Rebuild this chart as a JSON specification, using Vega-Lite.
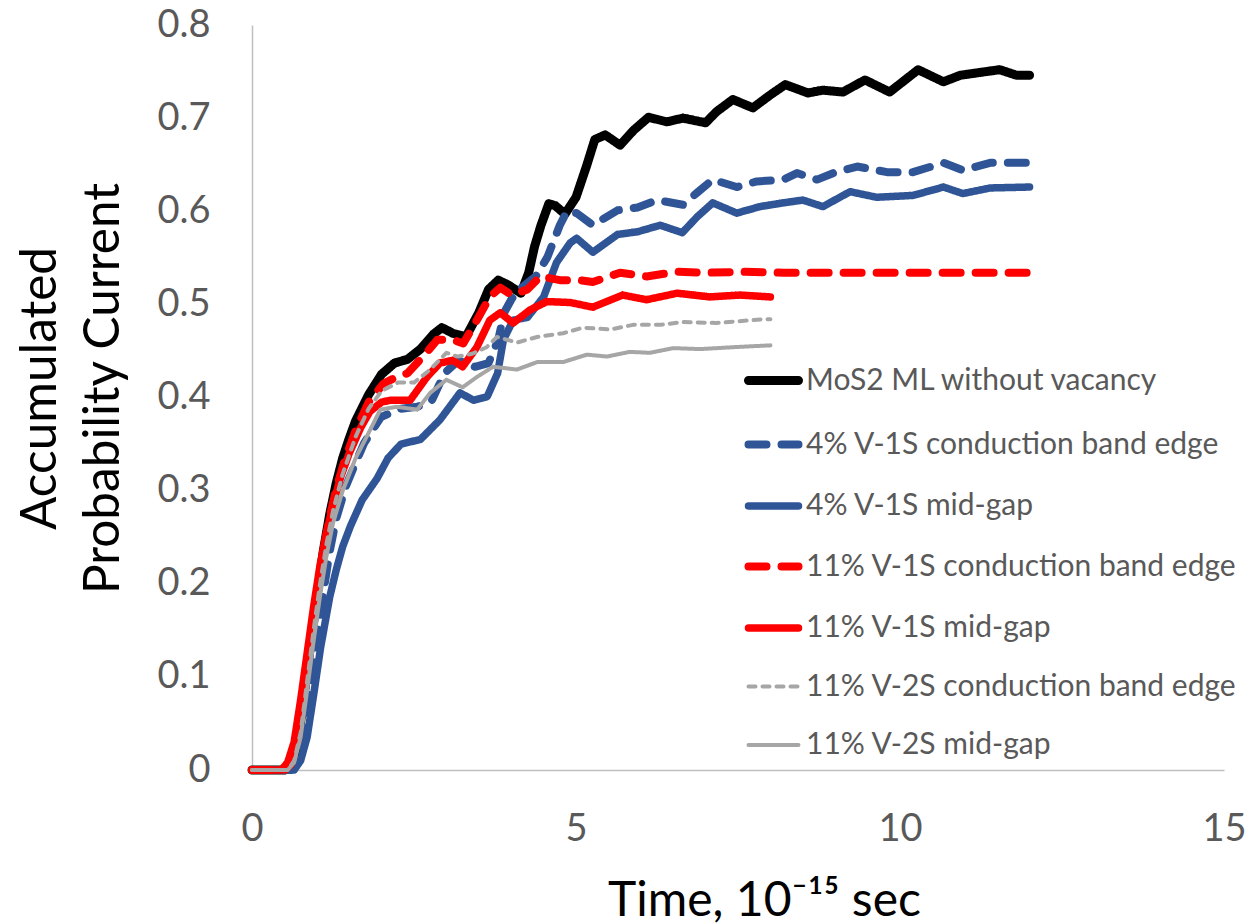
{
"$schema": "https://vega.github.io/schema/vega-lite/v6.json",
"width": 972, "height": 745,
"autosize": {"type": "none"},
"padding": {"left": 252, "top": 25, "right": 27, "bottom": 154},
"background": "white",
"config": {"view": {"stroke": null}, "font": "Lato"},
"datasets": {"d": [
{"s":"MoS2 ML without vacancy","x":0,"y":0},{"s":"MoS2 ML without vacancy","x":0.5,"y":0},{"s":"MoS2 ML without vacancy","x":0.6,"y":0.005},{"s":"MoS2 ML without vacancy","x":0.7,"y":0.025},{"s":"MoS2 ML without vacancy","x":0.8,"y":0.078},{"s":"MoS2 ML without vacancy","x":0.9,"y":0.132},{"s":"MoS2 ML without vacancy","x":1.0,"y":0.185},{"s":"MoS2 ML without vacancy","x":1.1,"y":0.235},{"s":"MoS2 ML without vacancy","x":1.2,"y":0.275},{"s":"MoS2 ML without vacancy","x":1.3,"y":0.308},{"s":"MoS2 ML without vacancy","x":1.4,"y":0.335},{"s":"MoS2 ML without vacancy","x":1.5,"y":0.356},{"s":"MoS2 ML without vacancy","x":1.6,"y":0.375},{"s":"MoS2 ML without vacancy","x":1.8,"y":0.403},{"s":"MoS2 ML without vacancy","x":2.0,"y":0.425},{"s":"MoS2 ML without vacancy","x":2.2,"y":0.437},{"s":"MoS2 ML without vacancy","x":2.4,"y":0.441},{"s":"MoS2 ML without vacancy","x":2.6,"y":0.452},{"s":"MoS2 ML without vacancy","x":2.8,"y":0.468},{"s":"MoS2 ML without vacancy","x":2.93,"y":0.475},{"s":"MoS2 ML without vacancy","x":3.1,"y":0.469},{"s":"MoS2 ML without vacancy","x":3.3,"y":0.465},{"s":"MoS2 ML without vacancy","x":3.5,"y":0.491},{"s":"MoS2 ML without vacancy","x":3.65,"y":0.516},{"s":"MoS2 ML without vacancy","x":3.8,"y":0.526},{"s":"MoS2 ML without vacancy","x":3.95,"y":0.521},{"s":"MoS2 ML without vacancy","x":4.15,"y":0.512},{"s":"MoS2 ML without vacancy","x":4.27,"y":0.534},{"s":"MoS2 ML without vacancy","x":4.36,"y":0.562},{"s":"MoS2 ML without vacancy","x":4.46,"y":0.585},{"s":"MoS2 ML without vacancy","x":4.58,"y":0.608},{"s":"MoS2 ML without vacancy","x":4.68,"y":0.606},{"s":"MoS2 ML without vacancy","x":4.83,"y":0.597},{"s":"MoS2 ML without vacancy","x":5.0,"y":0.615},{"s":"MoS2 ML without vacancy","x":5.16,"y":0.648},{"s":"MoS2 ML without vacancy","x":5.29,"y":0.677},{"s":"MoS2 ML without vacancy","x":5.45,"y":0.682},{"s":"MoS2 ML without vacancy","x":5.68,"y":0.671},{"s":"MoS2 ML without vacancy","x":5.89,"y":0.687},{"s":"MoS2 ML without vacancy","x":6.12,"y":0.701},{"s":"MoS2 ML without vacancy","x":6.4,"y":0.696},{"s":"MoS2 ML without vacancy","x":6.65,"y":0.7},{"s":"MoS2 ML without vacancy","x":7.0,"y":0.695},{"s":"MoS2 ML without vacancy","x":7.17,"y":0.707},{"s":"MoS2 ML without vacancy","x":7.42,"y":0.72},{"s":"MoS2 ML without vacancy","x":7.73,"y":0.711},{"s":"MoS2 ML without vacancy","x":8.0,"y":0.725},{"s":"MoS2 ML without vacancy","x":8.23,"y":0.736},{"s":"MoS2 ML without vacancy","x":8.58,"y":0.727},{"s":"MoS2 ML without vacancy","x":8.81,"y":0.73},{"s":"MoS2 ML without vacancy","x":9.12,"y":0.728},{"s":"MoS2 ML without vacancy","x":9.46,"y":0.741},{"s":"MoS2 ML without vacancy","x":9.84,"y":0.728},{"s":"MoS2 ML without vacancy","x":10.28,"y":0.752},{"s":"MoS2 ML without vacancy","x":10.67,"y":0.739},{"s":"MoS2 ML without vacancy","x":10.93,"y":0.746},{"s":"MoS2 ML without vacancy","x":11.23,"y":0.749},{"s":"MoS2 ML without vacancy","x":11.54,"y":0.752},{"s":"MoS2 ML without vacancy","x":11.8,"y":0.746},{"s":"MoS2 ML without vacancy","x":12.0,"y":0.746},
{"s":"4% V-1S conduction band edge","x":0,"y":0},{"s":"4% V-1S conduction band edge","x":0.6,"y":0},{"s":"4% V-1S conduction band edge","x":0.7,"y":0.01},{"s":"4% V-1S conduction band edge","x":0.8,"y":0.04},{"s":"4% V-1S conduction band edge","x":0.9,"y":0.09},{"s":"4% V-1S conduction band edge","x":1.0,"y":0.14},{"s":"4% V-1S conduction band edge","x":1.1,"y":0.19},{"s":"4% V-1S conduction band edge","x":1.2,"y":0.235},{"s":"4% V-1S conduction band edge","x":1.3,"y":0.27},{"s":"4% V-1S conduction band edge","x":1.45,"y":0.305},{"s":"4% V-1S conduction band edge","x":1.6,"y":0.33},{"s":"4% V-1S conduction band edge","x":1.73,"y":0.351},{"s":"4% V-1S conduction band edge","x":1.99,"y":0.379},{"s":"4% V-1S conduction band edge","x":2.3,"y":0.388},{"s":"4% V-1S conduction band edge","x":2.55,"y":0.39},{"s":"4% V-1S conduction band edge","x":2.77,"y":0.396},{"s":"4% V-1S conduction band edge","x":2.97,"y":0.426},{"s":"4% V-1S conduction band edge","x":3.19,"y":0.44},{"s":"4% V-1S conduction band edge","x":3.44,"y":0.433},{"s":"4% V-1S conduction band edge","x":3.65,"y":0.437},{"s":"4% V-1S conduction band edge","x":3.8,"y":0.462},{"s":"4% V-1S conduction band edge","x":3.89,"y":0.491},{"s":"4% V-1S conduction band edge","x":4.0,"y":0.505},{"s":"4% V-1S conduction band edge","x":4.11,"y":0.516},{"s":"4% V-1S conduction band edge","x":4.2,"y":0.52},{"s":"4% V-1S conduction band edge","x":4.38,"y":0.53},{"s":"4% V-1S conduction band edge","x":4.56,"y":0.551},{"s":"4% V-1S conduction band edge","x":4.75,"y":0.585},{"s":"4% V-1S conduction band edge","x":4.86,"y":0.6},{"s":"4% V-1S conduction band edge","x":5.01,"y":0.598},{"s":"4% V-1S conduction band edge","x":5.26,"y":0.585},{"s":"4% V-1S conduction band edge","x":5.64,"y":0.601},{"s":"4% V-1S conduction band edge","x":5.95,"y":0.604},{"s":"4% V-1S conduction band edge","x":6.25,"y":0.612},{"s":"4% V-1S conduction band edge","x":6.65,"y":0.607},{"s":"4% V-1S conduction band edge","x":6.87,"y":0.62},{"s":"4% V-1S conduction band edge","x":7.11,"y":0.634},{"s":"4% V-1S conduction band edge","x":7.48,"y":0.626},{"s":"4% V-1S conduction band edge","x":7.79,"y":0.632},{"s":"4% V-1S conduction band edge","x":8.2,"y":0.634},{"s":"4% V-1S conduction band edge","x":8.41,"y":0.641},{"s":"4% V-1S conduction band edge","x":8.72,"y":0.634},{"s":"4% V-1S conduction band edge","x":8.97,"y":0.641},{"s":"4% V-1S conduction band edge","x":9.34,"y":0.648},{"s":"4% V-1S conduction band edge","x":9.8,"y":0.642},{"s":"4% V-1S conduction band edge","x":10.2,"y":0.642},{"s":"4% V-1S conduction band edge","x":10.67,"y":0.652},{"s":"4% V-1S conduction band edge","x":10.97,"y":0.644},{"s":"4% V-1S conduction band edge","x":11.39,"y":0.652},{"s":"4% V-1S conduction band edge","x":12.0,"y":0.652},
{"s":"4% V-1S mid-gap","x":0,"y":0},{"s":"4% V-1S mid-gap","x":0.65,"y":0},{"s":"4% V-1S mid-gap","x":0.75,"y":0.01},{"s":"4% V-1S mid-gap","x":0.85,"y":0.035},{"s":"4% V-1S mid-gap","x":0.95,"y":0.08},{"s":"4% V-1S mid-gap","x":1.06,"y":0.132},{"s":"4% V-1S mid-gap","x":1.2,"y":0.186},{"s":"4% V-1S mid-gap","x":1.3,"y":0.215},{"s":"4% V-1S mid-gap","x":1.4,"y":0.24},{"s":"4% V-1S mid-gap","x":1.52,"y":0.262},{"s":"4% V-1S mid-gap","x":1.7,"y":0.29},{"s":"4% V-1S mid-gap","x":1.93,"y":0.313},{"s":"4% V-1S mid-gap","x":2.1,"y":0.335},{"s":"4% V-1S mid-gap","x":2.3,"y":0.35},{"s":"4% V-1S mid-gap","x":2.6,"y":0.355},{"s":"4% V-1S mid-gap","x":2.9,"y":0.376},{"s":"4% V-1S mid-gap","x":3.21,"y":0.405},{"s":"4% V-1S mid-gap","x":3.42,"y":0.397},{"s":"4% V-1S mid-gap","x":3.63,"y":0.401},{"s":"4% V-1S mid-gap","x":3.79,"y":0.426},{"s":"4% V-1S mid-gap","x":3.88,"y":0.462},{"s":"4% V-1S mid-gap","x":4.03,"y":0.483},{"s":"4% V-1S mid-gap","x":4.25,"y":0.486},{"s":"4% V-1S mid-gap","x":4.5,"y":0.508},{"s":"4% V-1S mid-gap","x":4.7,"y":0.545},{"s":"4% V-1S mid-gap","x":4.91,"y":0.566},{"s":"4% V-1S mid-gap","x":5.01,"y":0.571},{"s":"4% V-1S mid-gap","x":5.26,"y":0.556},{"s":"4% V-1S mid-gap","x":5.64,"y":0.575},{"s":"4% V-1S mid-gap","x":5.95,"y":0.578},{"s":"4% V-1S mid-gap","x":6.3,"y":0.585},{"s":"4% V-1S mid-gap","x":6.64,"y":0.577},{"s":"4% V-1S mid-gap","x":6.87,"y":0.594},{"s":"4% V-1S mid-gap","x":7.11,"y":0.609},{"s":"4% V-1S mid-gap","x":7.48,"y":0.598},{"s":"4% V-1S mid-gap","x":7.84,"y":0.605},{"s":"4% V-1S mid-gap","x":8.2,"y":0.609},{"s":"4% V-1S mid-gap","x":8.5,"y":0.612},{"s":"4% V-1S mid-gap","x":8.81,"y":0.605},{"s":"4% V-1S mid-gap","x":9.23,"y":0.621},{"s":"4% V-1S mid-gap","x":9.64,"y":0.615},{"s":"4% V-1S mid-gap","x":10.2,"y":0.617},{"s":"4% V-1S mid-gap","x":10.67,"y":0.626},{"s":"4% V-1S mid-gap","x":10.97,"y":0.619},{"s":"4% V-1S mid-gap","x":11.39,"y":0.625},{"s":"4% V-1S mid-gap","x":12.0,"y":0.626},
{"s":"11% V-1S conduction band edge","x":0,"y":0},{"s":"11% V-1S conduction band edge","x":0.5,"y":0},{"s":"11% V-1S conduction band edge","x":0.6,"y":0.006},{"s":"11% V-1S conduction band edge","x":0.7,"y":0.028},{"s":"11% V-1S conduction band edge","x":0.8,"y":0.082},{"s":"11% V-1S conduction band edge","x":0.9,"y":0.137},{"s":"11% V-1S conduction band edge","x":1.0,"y":0.187},{"s":"11% V-1S conduction band edge","x":1.1,"y":0.235},{"s":"11% V-1S conduction band edge","x":1.2,"y":0.272},{"s":"11% V-1S conduction band edge","x":1.3,"y":0.302},{"s":"11% V-1S conduction band edge","x":1.42,"y":0.33},{"s":"11% V-1S conduction band edge","x":1.6,"y":0.365},{"s":"11% V-1S conduction band edge","x":1.8,"y":0.395},{"s":"11% V-1S conduction band edge","x":2.03,"y":0.415},{"s":"11% V-1S conduction band edge","x":2.2,"y":0.421},{"s":"11% V-1S conduction band edge","x":2.4,"y":0.426},{"s":"11% V-1S conduction band edge","x":2.64,"y":0.444},{"s":"11% V-1S conduction band edge","x":2.86,"y":0.462},{"s":"11% V-1S conduction band edge","x":3.1,"y":0.462},{"s":"11% V-1S conduction band edge","x":3.26,"y":0.458},{"s":"11% V-1S conduction band edge","x":3.47,"y":0.483},{"s":"11% V-1S conduction band edge","x":3.67,"y":0.508},{"s":"11% V-1S conduction band edge","x":3.83,"y":0.518},{"s":"11% V-1S conduction band edge","x":4.01,"y":0.51},{"s":"11% V-1S conduction band edge","x":4.25,"y":0.516},{"s":"11% V-1S conduction band edge","x":4.45,"y":0.53},{"s":"11% V-1S conduction band edge","x":4.75,"y":0.526},{"s":"11% V-1S conduction band edge","x":5.06,"y":0.526},{"s":"11% V-1S conduction band edge","x":5.26,"y":0.524},{"s":"11% V-1S conduction band edge","x":5.68,"y":0.534},{"s":"11% V-1S conduction band edge","x":6.09,"y":0.53},{"s":"11% V-1S conduction band edge","x":6.56,"y":0.535},{"s":"11% V-1S conduction band edge","x":7.03,"y":0.534},{"s":"11% V-1S conduction band edge","x":7.58,"y":0.535},{"s":"11% V-1S conduction band edge","x":8.2,"y":0.534},{"s":"11% V-1S conduction band edge","x":9.0,"y":0.534},{"s":"11% V-1S conduction band edge","x":10.0,"y":0.534},{"s":"11% V-1S conduction band edge","x":11.0,"y":0.534},{"s":"11% V-1S conduction band edge","x":12.0,"y":0.534},
{"s":"11% V-1S mid-gap","x":0,"y":0},{"s":"11% V-1S mid-gap","x":0.45,"y":0},{"s":"11% V-1S mid-gap","x":0.55,"y":0.008},{"s":"11% V-1S mid-gap","x":0.65,"y":0.03},{"s":"11% V-1S mid-gap","x":0.75,"y":0.075},{"s":"11% V-1S mid-gap","x":0.85,"y":0.125},{"s":"11% V-1S mid-gap","x":0.95,"y":0.175},{"s":"11% V-1S mid-gap","x":1.05,"y":0.22},{"s":"11% V-1S mid-gap","x":1.15,"y":0.255},{"s":"11% V-1S mid-gap","x":1.25,"y":0.285},{"s":"11% V-1S mid-gap","x":1.37,"y":0.315},{"s":"11% V-1S mid-gap","x":1.5,"y":0.34},{"s":"11% V-1S mid-gap","x":1.68,"y":0.368},{"s":"11% V-1S mid-gap","x":1.82,"y":0.385},{"s":"11% V-1S mid-gap","x":2.0,"y":0.395},{"s":"11% V-1S mid-gap","x":2.13,"y":0.397},{"s":"11% V-1S mid-gap","x":2.44,"y":0.397},{"s":"11% V-1S mid-gap","x":2.7,"y":0.422},{"s":"11% V-1S mid-gap","x":2.9,"y":0.437},{"s":"11% V-1S mid-gap","x":3.1,"y":0.44},{"s":"11% V-1S mid-gap","x":3.25,"y":0.433},{"s":"11% V-1S mid-gap","x":3.47,"y":0.454},{"s":"11% V-1S mid-gap","x":3.67,"y":0.483},{"s":"11% V-1S mid-gap","x":3.83,"y":0.491},{"s":"11% V-1S mid-gap","x":4.03,"y":0.48},{"s":"11% V-1S mid-gap","x":4.29,"y":0.494},{"s":"11% V-1S mid-gap","x":4.55,"y":0.503},{"s":"11% V-1S mid-gap","x":4.91,"y":0.502},{"s":"11% V-1S mid-gap","x":5.26,"y":0.497},{"s":"11% V-1S mid-gap","x":5.72,"y":0.51},{"s":"11% V-1S mid-gap","x":6.09,"y":0.505},{"s":"11% V-1S mid-gap","x":6.56,"y":0.512},{"s":"11% V-1S mid-gap","x":7.06,"y":0.508},{"s":"11% V-1S mid-gap","x":7.53,"y":0.51},{"s":"11% V-1S mid-gap","x":8.0,"y":0.508},
{"s":"11% V-2S conduction band edge","x":0,"y":0},{"s":"11% V-2S conduction band edge","x":0.55,"y":0},{"s":"11% V-2S conduction band edge","x":0.65,"y":0.01},{"s":"11% V-2S conduction band edge","x":0.75,"y":0.04},{"s":"11% V-2S conduction band edge","x":0.85,"y":0.095},{"s":"11% V-2S conduction band edge","x":0.95,"y":0.15},{"s":"11% V-2S conduction band edge","x":1.05,"y":0.2},{"s":"11% V-2S conduction band edge","x":1.15,"y":0.243},{"s":"11% V-2S conduction band edge","x":1.25,"y":0.278},{"s":"11% V-2S conduction band edge","x":1.4,"y":0.318},{"s":"11% V-2S conduction band edge","x":1.6,"y":0.358},{"s":"11% V-2S conduction band edge","x":1.8,"y":0.388},{"s":"11% V-2S conduction band edge","x":2.0,"y":0.407},{"s":"11% V-2S conduction band edge","x":2.25,"y":0.416},{"s":"11% V-2S conduction band edge","x":2.5,"y":0.416},{"s":"11% V-2S conduction band edge","x":2.75,"y":0.43},{"s":"11% V-2S conduction band edge","x":3.0,"y":0.448},{"s":"11% V-2S conduction band edge","x":3.17,"y":0.444},{"s":"11% V-2S conduction band edge","x":3.4,"y":0.447},{"s":"11% V-2S conduction band edge","x":3.62,"y":0.454},{"s":"11% V-2S conduction band edge","x":3.78,"y":0.465},{"s":"11% V-2S conduction band edge","x":4.09,"y":0.459},{"s":"11% V-2S conduction band edge","x":4.4,"y":0.465},{"s":"11% V-2S conduction band edge","x":4.8,"y":0.469},{"s":"11% V-2S conduction band edge","x":5.11,"y":0.475},{"s":"11% V-2S conduction band edge","x":5.53,"y":0.473},{"s":"11% V-2S conduction band edge","x":5.88,"y":0.478},{"s":"11% V-2S conduction band edge","x":6.3,"y":0.478},{"s":"11% V-2S conduction band edge","x":6.65,"y":0.481},{"s":"11% V-2S conduction band edge","x":7.17,"y":0.48},{"s":"11% V-2S conduction band edge","x":7.89,"y":0.484},{"s":"11% V-2S conduction band edge","x":8.0,"y":0.484},
{"s":"11% V-2S mid-gap","x":0,"y":0},{"s":"11% V-2S mid-gap","x":0.55,"y":0},{"s":"11% V-2S mid-gap","x":0.65,"y":0.008},{"s":"11% V-2S mid-gap","x":0.75,"y":0.035},{"s":"11% V-2S mid-gap","x":0.85,"y":0.085},{"s":"11% V-2S mid-gap","x":0.95,"y":0.138},{"s":"11% V-2S mid-gap","x":1.05,"y":0.187},{"s":"11% V-2S mid-gap","x":1.15,"y":0.23},{"s":"11% V-2S mid-gap","x":1.25,"y":0.265},{"s":"11% V-2S mid-gap","x":1.4,"y":0.3},{"s":"11% V-2S mid-gap","x":1.6,"y":0.335},{"s":"11% V-2S mid-gap","x":1.8,"y":0.362},{"s":"11% V-2S mid-gap","x":1.98,"y":0.387},{"s":"11% V-2S mid-gap","x":2.23,"y":0.39},{"s":"11% V-2S mid-gap","x":2.55,"y":0.387},{"s":"11% V-2S mid-gap","x":2.75,"y":0.405},{"s":"11% V-2S mid-gap","x":3.0,"y":0.419},{"s":"11% V-2S mid-gap","x":3.25,"y":0.411},{"s":"11% V-2S mid-gap","x":3.47,"y":0.422},{"s":"11% V-2S mid-gap","x":3.72,"y":0.433},{"s":"11% V-2S mid-gap","x":4.09,"y":0.43},{"s":"11% V-2S mid-gap","x":4.4,"y":0.438},{"s":"11% V-2S mid-gap","x":4.8,"y":0.438},{"s":"11% V-2S mid-gap","x":5.17,"y":0.446},{"s":"11% V-2S mid-gap","x":5.48,"y":0.444},{"s":"11% V-2S mid-gap","x":5.83,"y":0.449},{"s":"11% V-2S mid-gap","x":6.14,"y":0.448},{"s":"11% V-2S mid-gap","x":6.5,"y":0.453},{"s":"11% V-2S mid-gap","x":6.92,"y":0.452},{"s":"11% V-2S mid-gap","x":7.42,"y":0.454},{"s":"11% V-2S mid-gap","x":8.0,"y":0.456}
]},
"data": {"name": "d"},
"mark": {"type": "line", "strokeCap": "round", "strokeJoin": "round"},
"encoding": {
  "x": {"field": "x", "type": "quantitative",
    "scale": {"domain": [0, 15], "nice": false},
    "axis": {"values": [0, 5, 10, 15], "format": "d", "grid": false, "ticks": false, "tickSize": 0, "labelFlush": false,
      "domainColor": "#BFBFBF", "domainWidth": 1.5,
      "labelFont": "Lato", "labelFontSize": 38, "labelColor": "#595959", "labelPadding": 40,
      "title": "Time, 10⁻¹⁵ sec", "titleFont": "Lato", "titleFontSize": 48, "titleFontWeight": "normal", "titleColor": "#000000",
      "titleX": 512, "titleY": 145, "titleAlign": "center", "titleBaseline": "alphabetic"}},
  "y": {"field": "y", "type": "quantitative",
    "scale": {"domain": [0, 0.8], "nice": false},
    "axis": {"values": [0, 0.1, 0.2, 0.3, 0.4, 0.5, 0.6, 0.7, 0.8], "format": ".1~f", "grid": false, "ticks": false, "tickSize": 0, "labelFlush": false,
      "domainColor": "#BFBFBF", "domainWidth": 1.5,
      "labelFont": "Lato", "labelFontSize": 38, "labelColor": "#595959", "labelPadding": 42,
      "title": ["Accumulated", "Probability Current"], "titleFont": "Lato", "titleFontSize": 49.5, "titleFontWeight": "normal", "titleColor": "#000000",
      "titleLineHeight": 63, "titleX": -197, "titleY": 363, "titleAngle": 270, "titleAlign": "center", "titleBaseline": "alphabetic"}},
  "color": {"field": "s", "type": "nominal",
    "scale": {"domain": ["MoS2 ML without vacancy", "4% V-1S conduction band edge", "4% V-1S mid-gap", "11% V-1S conduction band edge", "11% V-1S mid-gap", "11% V-2S conduction band edge", "11% V-2S mid-gap"],
      "range": ["#000000", "#2F5597", "#2F5597", "#FF0000", "#FF0000", "#A6A6A6", "#A6A6A6"]},
    "legend": {"title": null, "orient": "none", "legendX": 492, "legendY": 326, "symbolType": "stroke", "symbolSize": 2500,
      "labelFont": "Lato", "labelFontSize": 30, "labelColor": "#595959", "labelOffset": 3, "rowPadding": 16.5, "padding": 0, "labelLimit": 800,
      "encode": {"symbols": {"update": {"strokeCap": {"value": "round"}}}}}},
  "strokeDash": {"field": "s", "type": "nominal",
    "scale": {"domain": ["MoS2 ML without vacancy", "4% V-1S conduction band edge", "4% V-1S mid-gap", "11% V-1S conduction band edge", "11% V-1S mid-gap", "11% V-2S conduction band edge", "11% V-2S mid-gap"],
      "range": [[1, 0], [18, 15], [1, 0], [18, 15], [1, 0], [7, 7], [1, 0]]},
    "legend": {"title": null, "orient": "none", "legendX": 492, "legendY": 326, "symbolType": "stroke", "symbolSize": 2500,
      "labelFont": "Lato", "labelFontSize": 30, "labelColor": "#595959", "labelOffset": 3, "rowPadding": 16.5, "padding": 0, "labelLimit": 800,
      "encode": {"symbols": {"update": {"strokeCap": {"value": "round"}}}}}},
  "strokeWidth": {"field": "s", "type": "nominal",
    "scale": {"type": "ordinal", "domain": ["MoS2 ML without vacancy", "4% V-1S conduction band edge", "4% V-1S mid-gap", "11% V-1S conduction band edge", "11% V-1S mid-gap", "11% V-2S conduction band edge", "11% V-2S mid-gap"],
      "range": [9, 8, 7.5, 8, 7.5, 4, 4]},
    "legend": {"title": null, "orient": "none", "legendX": 492, "legendY": 326, "symbolType": "stroke", "symbolSize": 2500,
      "labelFont": "Lato", "labelFontSize": 30, "labelColor": "#595959", "labelOffset": 3, "rowPadding": 16.5, "padding": 0, "labelLimit": 800,
      "encode": {"symbols": {"update": {"strokeCap": {"value": "round"}}}}}}
}
}
